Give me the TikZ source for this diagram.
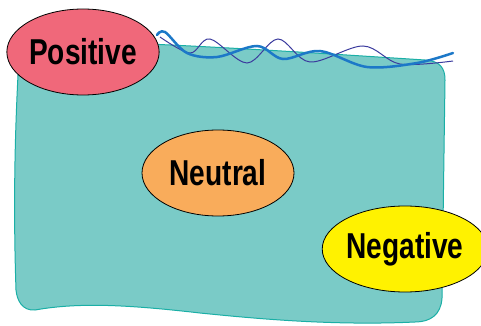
\documentclass[tikz,border=0pt]{standalone}
\usepackage{fontspec}
\setmainfont{Liberation Sans}[FakeStretch=0.78]
\usetikzlibrary{shapes.geometric}
\definecolor{tealf}{HTML}{7ACBC7}
\definecolor{tealb}{HTML}{1AAFA6}
\definecolor{posf}{HTML}{F0687A}
\definecolor{neuf}{HTML}{F9AC5B}
\definecolor{negf}{HTML}{FFF200}
\definecolor{wblue}{HTML}{1C78C8}
\definecolor{wpurple}{HTML}{3B3B9E}
\tikzset{
  blob/.style={ellipse, draw=black, line width=0.8pt, minimum width=152pt, minimum height=86pt, inner sep=0pt,
    font=\fontsize{36}{36}\selectfont\bfseries, text=black}
}
\begin{document}
\begin{tikzpicture}[x=1pt,y=-1pt]
\useasboundingbox (0,0) rectangle (481,326);
\path[draw=tealb, line width=1pt, fill=tealf] (20,40) .. controls (150,42) and (300,52) .. (425,60)
  .. controls (440,61) and (445,68) .. (445,80) -- (442,298)
  .. controls (441,315) and (430,322) .. (415,322)
  .. controls (330,326) and (250,318) .. (200,313)
  .. controls (130,305) and (80,302) .. (35,310)
  .. controls (22,311) and (17,300) .. (16,290)
  .. controls (13,200) and (15,120) .. (20,40) -- cycle;
\draw[wpurple, line width=1pt] plot[smooth, tension=0.55] coordinates {(160,37) (190,53) (210,39) (247,63) (278,39) (310,62) (363,46) (400,64) (453,61)};
\draw[wblue, line width=2.5pt, line cap=round] plot[smooth, tension=0.55] coordinates {(157,35) (165,32) (187,53) (217,57) (257,46) (283,59) (320,51) (367,67) (417,63) (453,53)};
\node[blob, fill=posf] (pos) at (83,52) {Positive};
\node[blob, fill=neuf] (neu) at (218,173) {Neutral};
\node[blob, fill=negf] (neg) at (405,249) {Negative};
\end{tikzpicture}
\end{document}
